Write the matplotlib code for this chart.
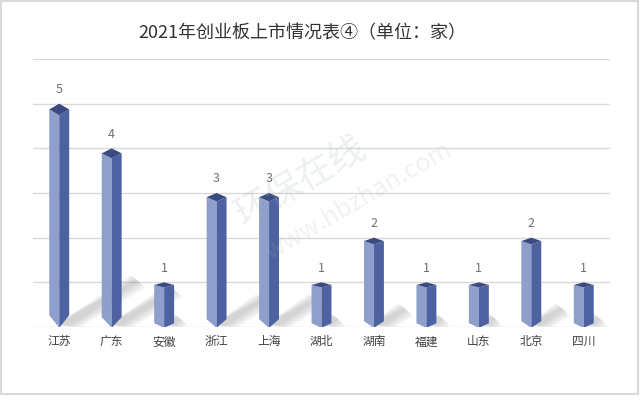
import matplotlib
matplotlib.use("Agg")
import matplotlib.pyplot as plt
from matplotlib.patches import Polygon, Rectangle

plt.rcParams['font.family'] = ['Noto Sans CJK SC', 'DejaVu Sans']

# data
provinces = ["江苏", "广东", "安徽", "浙江", "上海", "湖北", "湖南", "福建", "山东", "北京", "四川"]
counts = [5, 4, 1, 3, 3, 1, 2, 1, 1, 2, 1]
title = "2021年创业板上市情况表④（单位：家）"

#colours of the prism faces
light = "#8F9FCB"
dark = "#4E62A2"
topc = "#3B4B80"

fig = plt.figure(figsize=(6.4, 4.03), dpi=100)
ax = fig.add_axes([33/640, 76/403, 577/640, 268/403])

ax.set_xlim(-0.5, len(provinces) - 0.5)
ax.set_ylim(0, 6)

# gridlines
for g in range(0, 7):
    ax.axhline(g, color="#D9D9D9", lw=1, zorder=0)

w = 0.19
for i, v in enumerate(counts):
    x = i
    side = 0.04 + 0.018 * v      # drop of side corners on the top diamond
    bot = 0.04 + 0.045 * v       # rise of side corners at the bottom

    # soft shadow behind the bar, going up to the right
    dx, dy = 0.30 * v, 0.21 * v
    for k in range(10):
        s = 0.03 + 0.03 * k
        shadow = Polygon([(x - 0.05, 0.06), (x + 0.12 + s, 0.0),
                          (x + dx + s * 0.5, dy - s * 0.6), (x + dx - s * 0.5, dy + s * 0.4)],
                         closed=True, facecolor="#808080", edgecolor="none", alpha=0.035, zorder=1)
        ax.add_patch(shadow)

    # left face
    ax.add_patch(Polygon([(x - w, bot), (x, -0.02), (x, v - 2 * side), (x - w, v - side)],
                         closed=True, facecolor=light, edgecolor="none", zorder=3))
    # right face
    ax.add_patch(Polygon([(x, -0.02), (x + w, bot), (x + w, v - side), (x, v - 2 * side)],
                         closed=True, facecolor=dark, edgecolor="none", zorder=3))
    # top
    ax.add_patch(Polygon([(x, v), (x - w, v - side), (x, v - 2 * side), (x + w, v - side)],
                         closed=True, facecolor=topc, edgecolor="none", zorder=4))

    ax.text(x, v + 0.32, str(v), ha="center", va="center", fontsize=9, color="#707070", zorder=5)

ax.set_xticks(range(len(provinces)))
ax.set_xticklabels(provinces, fontsize=8.5, color="#404040")
ax.tick_params(axis="x", length=0, pad=6)
ax.set_yticks([])
for sp in ax.spines.values():
    sp.set_visible(False)

# faint watermark
fig.text(0.47, 0.55, "环保在线", fontsize=26, color="#9FB8A8", alpha=0.2, rotation=30,
         ha="center", va="center")
fig.text(0.56, 0.50, "www.hbzhan.com", fontsize=18, color="#9FB8A8", alpha=0.17, rotation=30,
         ha="center", va="center")

fig.text(302/640, 1 - 33/403, title, ha="center", va="center", fontsize=13, color="#333333")

# outer frame
fig.patches.append(Rectangle((0.001, 9/403), 0.996, 1 - 9/403 - 0.002, transform=fig.transFigure,
                             fill=False, edgecolor="#D9D9D9", lw=1.5))

fig.savefig("out.png", dpi=100)
